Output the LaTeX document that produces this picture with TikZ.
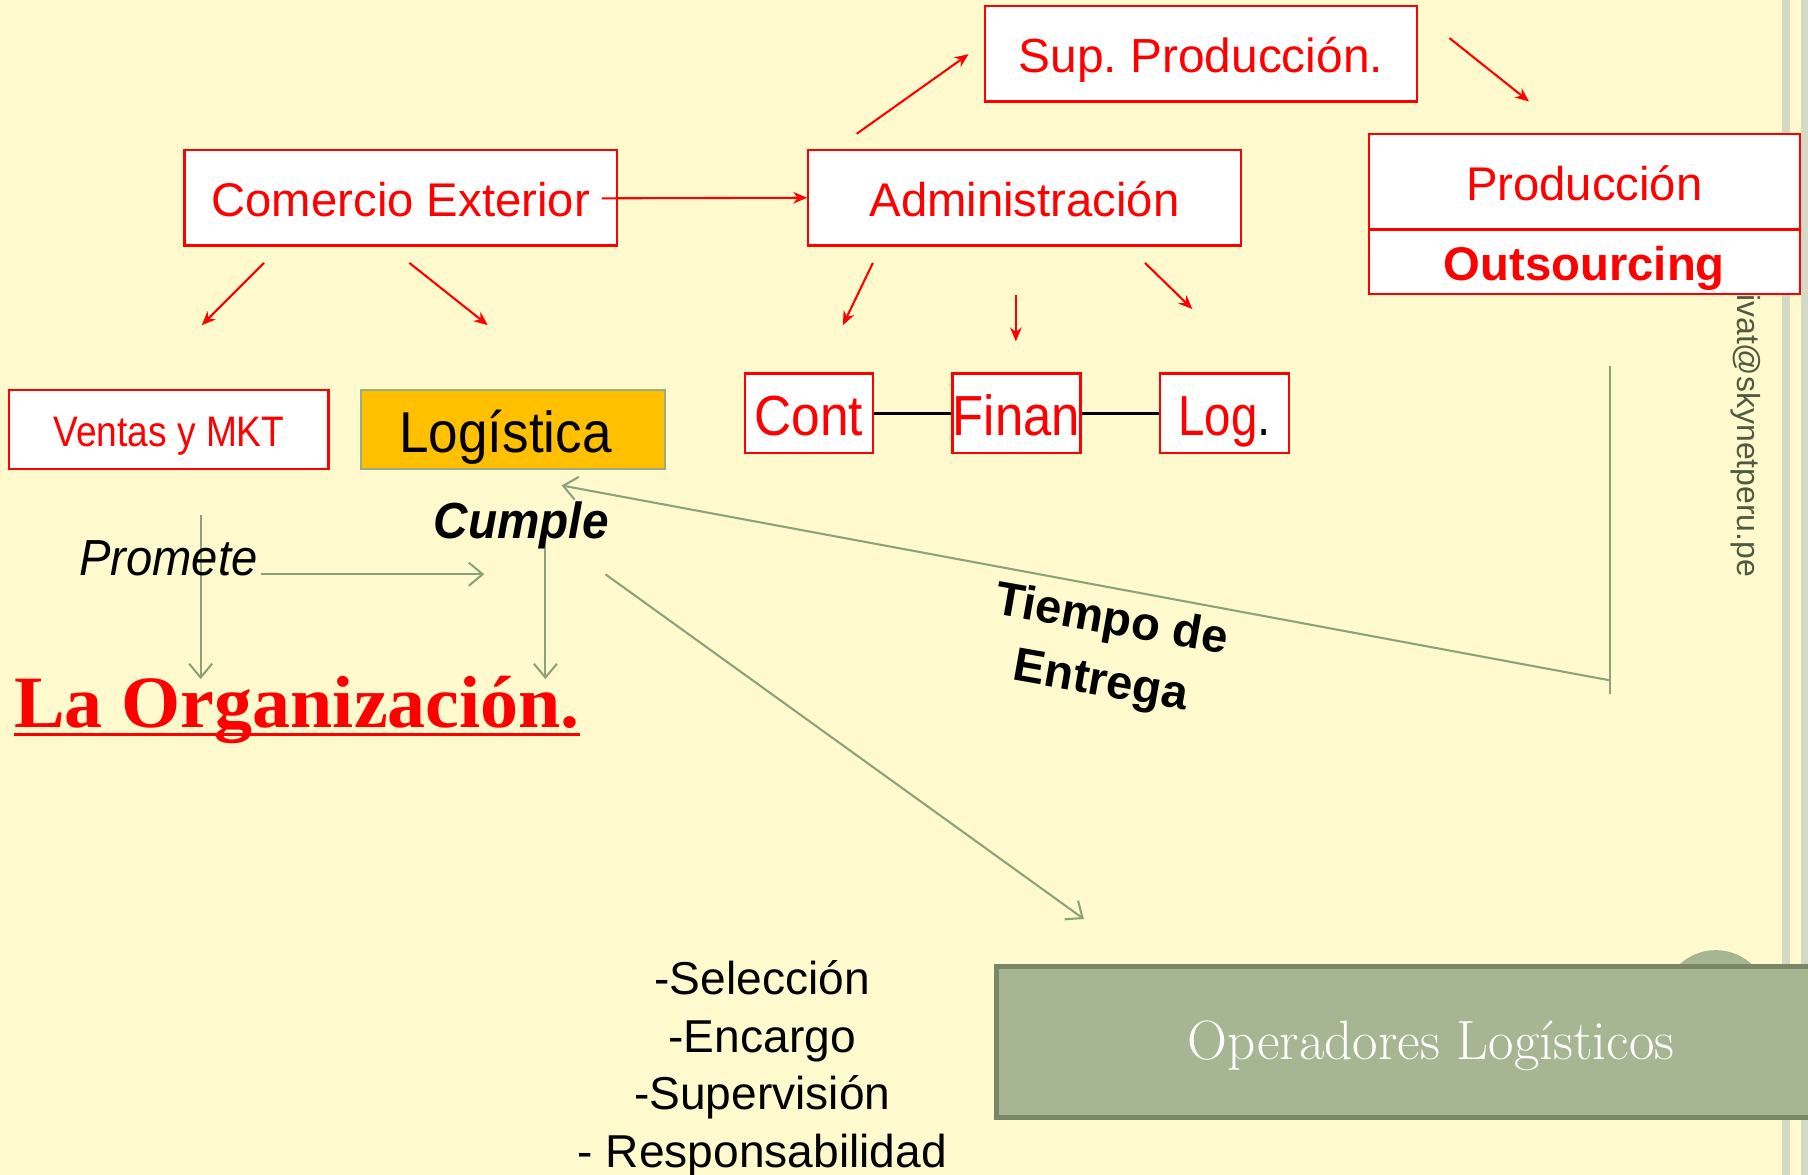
\documentclass[tikz,border=0pt]{standalone}
\usepackage{fontspec}
\newfontfamily\arial{Liberation Sans}
\newfontfamily\tnr{Liberation Serif}
\usetikzlibrary{arrows.meta}
\definecolor{bg}{RGB}{255,250,205}
\definecolor{grn}{RGB}{140,162,120}
\definecolor{stripe}{RGB}{212,217,198}
\definecolor{opfill}{RGB}{166,181,146}
\definecolor{opdraw}{RGB}{122,135,103}
\definecolor{gold}{RGB}{255,192,0}
\definecolor{goldb}{RGB}{155,171,132}
\definecolor{wm}{RGB}{80,90,64}
\newcommand\fsz[1]{\fontsize{#1}{#1}\selectfont}
\frenchspacing
\tikzset{
  redbox/.style={draw=red, line width=2pt, fill=white, inner sep=0pt, text=red, font=\arial},
  redarr/.style={draw=red, line width=1.8pt, -{Stealth[length=12pt,width=10pt]}},
  grnarr/.style={draw=grn, line width=1.8pt, -{Straight Barb[length=12pt,width=20pt]}},
  grnline/.style={draw=grn, line width=1.8pt},
  blk/.style={draw=black, line width=2pt},
  plain/.style={inner sep=0pt, font=\arial}
}
\begin{document}
\begin{tikzpicture}[x=1pt,y=-1pt]
\useasboundingbox (0,0) rectangle (1568,1019);
\clip (0,0) rectangle (1568,1019);
\fill[bg] (0,0) rectangle (1568,1019);
% side stripes
\fill[stripe] (1545,0) rectangle (1552,1019);
\fill[stripe] (1562,0) rectangle (1568,1019);
% watermark
\node[plain, rotate=-90, text=wm, anchor=west] (wmk) at (1514,255) {\fsz{27.7}ivat@skynetperu.pe};

% red boxes
\node[redbox, minimum width=375pt, minimum height=83pt, text height=33pt, text depth=0pt] (sup) at (1041.5,46.5) {\fsz{41.5}Sup. Producción.};
\node[redbox, minimum width=375pt, minimum height=83pt, text height=33pt, text depth=0pt] (com) at (347.5,171.5) {\fsz{41}Comercio Exterior};
\node[redbox, minimum width=375pt, minimum height=83pt, text height=33pt, text depth=0pt] (adm) at (888.5,171.5) {\fsz{41}Administración};
\node[redbox, minimum width=374pt, minimum height=83pt, text height=33pt, text depth=0pt] (prod) at (1374,157.5) {\fsz{41}Producción};
\node[redbox, minimum width=374pt, minimum height=56pt, text height=33pt, text depth=0pt] (out) at (1374,227) {\fsz{41}\bfseries Outsourcing};
\node[redbox, minimum width=277pt, minimum height=69pt, text height=29pt, text depth=0pt] (ven) at (146.5,372.5) {\fsz{37}\scalebox{0.87}[1]{Ventas y MKT}};
\node[draw=goldb, fill=gold, line width=2pt, inner sep=0pt, font=\arial, minimum width=264pt, minimum height=69pt, text height=39pt, text depth=0pt] (logi) at (445,372.5) {\fsz{50}\scalebox{0.92}[1]{Logística}\kern13pt};
\node[redbox, minimum width=111pt, minimum height=69pt, text height=39pt, text depth=0pt] (cont) at (701.5,358.5) {\fsz{49}\scalebox{0.91}[1]{Cont}};
\node[redbox, minimum width=111pt, minimum height=69pt, text height=39pt, text depth=0pt] (fin) at (881.5,358.5) {\fsz{49}\scalebox{0.9}[1]{Finan}};
\node[redbox, minimum width=112pt, minimum height=69pt, text height=39pt, text depth=0pt] (log) at (1062,358.5) {\fsz{49}\scalebox{0.84}[1]{Log\textcolor{black}{.}}};
\draw[blk] (cont.east) -- (fin.west);
\draw[blk] (fin.east) -- (log.west);

% red arrows
\coordinate (r1s) at (743,116); \coordinate (r1e) at (840,47);
\coordinate (r2s) at (1257,33); \coordinate (r2e) at (1326,88);
\coordinate (r3s) at (522,172);
\coordinate (r4s) at (229,228); \coordinate (r4e) at (175,282);
\coordinate (r5s) at (355,228); \coordinate (r5e) at (423,282);
\coordinate (r6s) at (757,228); \coordinate (r6e) at (731,282);
\coordinate (r7s) at (881,256); \coordinate (r7e) at (881,296);
\coordinate (r8s) at (993,228); \coordinate (r8e) at (1034,268);
\draw[redarr] (r1s) -- (r1e);
\draw[redarr] (r2s) -- (r2e);
\draw[redarr] (r3s) -- (adm.west);
\draw[redarr] (r4s) -- (r4e);
\draw[redarr] (r5s) -- (r5e);
\draw[redarr] (r6s) -- (r6e);
\draw[redarr] (r7s) -- (r7e);
\draw[redarr] (r8s) -- (r8e);

% green arrows
\coordinate (g1s) at (174,447); \coordinate (g1e) at (174,589);
\coordinate (g2s) at (226,498); \coordinate (g2e) at (420,498);
\coordinate (g3s) at (473,470); \coordinate (g3e) at (473,589);
\coordinate (g4s) at (525,498); \coordinate (g4e) at (940,797);
\coordinate (t1) at (1396,317); \coordinate (t2) at (1396,602);
\coordinate (t3) at (1396,590); \coordinate (t4) at (487,421);
\draw[grnarr] (g1s) -- (g1e);
\draw[grnarr] (g2s) -- (g2e);
\draw[grnarr] (g3s) -- (g3e);
\draw[grnarr] (g4s) -- (g4e);
\draw[grnline] (t1) -- (t2);
\draw[grnarr] (t3) -- (t4);

% texts
\node[plain] (prom) at (146,484) {\fsz{44}\itshape\scalebox{0.93}[1]{Promete}};
\node[plain] (cump) at (452,456) {\fsz{44}\bfseries\itshape\scalebox{0.94}[1]{Cumple}};
\node[inner sep=0pt, anchor=base west, text=red, font=\tnr] (org) at (12,631) {\fsz{64}\bfseries\scalebox{1.03}[1]{La Organización.}};
\draw[red, line width=3pt] (12,637) -- (503,637);
\node[inner sep=0pt, rotate=-10, align=center, font=\arial\bfseries\fontsize{41}{54}\selectfont] (tie) at (959,566) {Tiempo de\\Entrega};
\node[inner sep=0pt, align=center, font=\arial\fontsize{40}{50}\selectfont] (lst) at (661,927) {-Selección\\-Encargo\\-Supervisión\\- Responsabilidad};

% operadores
\fill[opfill] (1488,870) circle (46);
\node[fill=opfill, draw=opdraw, line width=4pt, minimum width=740pt, minimum height=131pt, anchor=north west, inner sep=0pt] (op) at (862,836) {};
\node[inner sep=0pt, text=white] (opt) at (1241,907) {\fsz{48}Operadores Logísticos};
\end{tikzpicture}
\end{document}
